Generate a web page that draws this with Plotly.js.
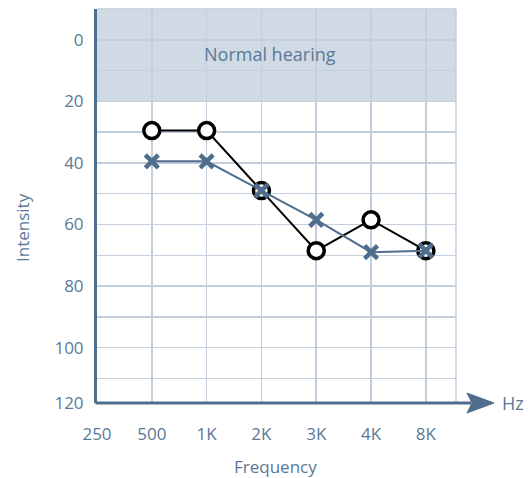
<!DOCTYPE html>
<html>
<head>
<meta charset="utf-8">
<script src="https://cdn.plot.ly/plotly-3.0.1.min.js"></script>
<style>html,body{margin:0;padding:0;background:#fff;}#chart{width:528px;height:478px;}</style>
</head>
<body>
<div id="chart"></div>
<script>
// ---- data ----
const freqLabels = ['250', '500', '1K', '2K', '3K', '4K', '8K'];
const freqPositions = [0, 1, 2, 3, 4, 5, 6];
const testedFreqs = ['500', '1K', '2K', '3K', '4K', '8K'];
const circleSeries = [29.5, 29.5, 49, 68.5, 58.5, 68.5];
const crossSeries = [39.5, 39.5, 49, 58.5, 69, 68.5];
const yTickVals = [0, 20, 40, 60, 80, 100, 118];
const yTickText = ['0', '20', '40', '60', '80', '100', '120'];
const yMinorVals = [-10, 10, 30, 50, 70, 90, 110];
const normalLimit = [-10, 20];

const txt = '#5a7998';
const axisCol = '#4f6e8e';
const gridCol = '#c3cfdc';
const bandCol = '#cfdae4';
const FONT = 'Open Sans, sans-serif';

const xOf = f => freqPositions[freqLabels.indexOf(f)];
const xs = testedFreqs.map(xOf);

const traces = [
  {
    x: xs, y: circleSeries, type: 'scatter', mode: 'lines+markers',
    line: {color: '#000000', width: 2},
    marker: {symbol: 'circle', size: 16, color: '#ffffff', line: {color: '#000000', width: 3.5}},
    cliponaxis: false, showlegend: false, hoverinfo: 'skip'
  },
  {
    x: xs, y: crossSeries, type: 'scatter', mode: 'lines+markers',
    line: {color: axisCol, width: 2},
    marker: {symbol: 'x-thin', size: 13, color: axisCol, line: {color: axisCol, width: 4.5}},
    cliponaxis: false, showlegend: false, hoverinfo: 'skip'
  }
];

const W = 359, H = 394;
const px = v => (v - 97) / W;       // pixel x -> paper
const py = v => (403 - v) / H;      // pixel y -> paper

const layout = {
  width: 528, height: 478,
  margin: {l: 97, r: 72, t: 9, b: 75},
  paper_bgcolor: '#ffffff', plot_bgcolor: '#ffffff',
  font: {family: FONT, size: 17, color: txt},
  xaxis: {
    range: [0, 6.55], tickmode: 'array', tickvals: freqPositions, ticktext: freqLabels,
    showgrid: true, gridcolor: gridCol, gridwidth: 1.5, zeroline: false,
    showline: false, ticks: 'outside', ticklen: 16, tickcolor: 'rgba(0,0,0,0)',
    tickfont: {family: FONT, size: 17, color: txt}, fixedrange: true
  },
  yaxis: {
    range: [118, -10], tickmode: 'array', tickvals: yTickVals, ticktext: yTickText,
    showgrid: true, gridcolor: gridCol, gridwidth: 1.5, zeroline: false,
    minor: {tickmode: 'array', tickvals: yMinorVals, showgrid: true, gridcolor: gridCol, gridwidth: 1.5, ticks: ''},
    showline: true, linecolor: axisCol, linewidth: 3,
    ticks: 'outside', ticklen: 7, tickcolor: 'rgba(0,0,0,0)',
    tickfont: {family: FONT, size: 17, color: txt}, fixedrange: true
  },
  shapes: [
    {type: 'rect', xref: 'paper', yref: 'y', x0: 0, x1: 1, y0: normalLimit[0], y1: normalLimit[1],
     fillcolor: bandCol, line: {width: 0}, layer: 'below'},
    {type: 'line', xref: 'paper', yref: 'paper', x0: 1, x1: 1, y0: 0, y1: 1,
     line: {color: gridCol, width: 1.5}, layer: 'below'},
    {type: 'line', xref: 'paper', yref: 'paper', x0: 0, x1: 1, y0: 1, y1: 1,
     line: {color: gridCol, width: 1.5}, layer: 'below'},
    {type: 'line', xref: 'paper', yref: 'paper', x0: px(95.5), x1: px(471), y0: 0, y1: 0,
     line: {color: axisCol, width: 3}, layer: 'above'},
    {type: 'path', xref: 'paper', yref: 'paper',
     path: 'M ' + px(467) + ' ' + py(393) + ' L ' + px(494) + ' ' + py(403) + ' L ' + px(467) + ' ' + py(413) + ' L ' + px(472) + ' ' + py(403) + ' Z',
     fillcolor: axisCol, line: {color: axisCol, width: 1}, layer: 'above'}
  ],
  annotations: [
    {text: 'Normal hearing', xref: 'paper', yref: 'y', x: px(270), y: 4.5, showarrow: false,
     xanchor: 'center', yanchor: 'middle', font: {family: FONT, size: 18, color: txt}},
    {text: 'Hz', xref: 'paper', yref: 'paper', x: px(513), y: py(403), showarrow: false,
     xanchor: 'center', yanchor: 'middle', font: {family: FONT, size: 18, color: txt}},
    {text: 'Frequency', xref: 'paper', yref: 'paper', x: px(275), y: py(466), showarrow: false,
     xanchor: 'center', yanchor: 'middle', font: {family: FONT, size: 17, color: txt}},
    {text: 'Intensity', xref: 'paper', yref: 'paper', x: px(22), y: py(228), showarrow: false,
     textangle: -90, xanchor: 'center', yanchor: 'middle', font: {family: FONT, size: 17, color: txt}}
  ]
};

Plotly.newPlot('chart', traces, layout, {displayModeBar: false, staticPlot: true});
</script>
</body>
</html>
